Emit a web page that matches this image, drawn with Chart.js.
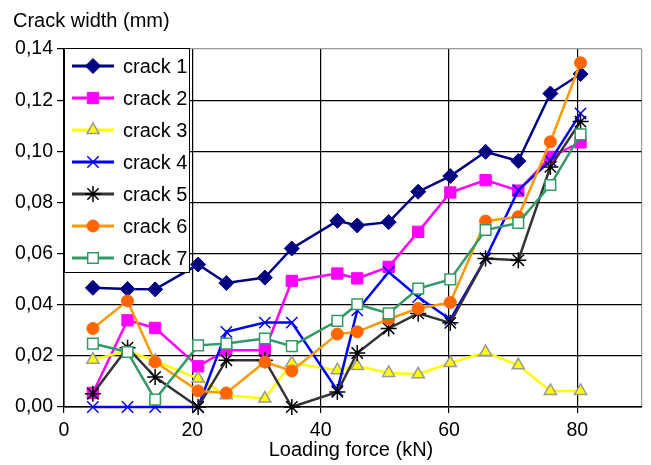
<!DOCTYPE html>
<html>
<head>
<meta charset="utf-8">
<script src="https://cdn.jsdelivr.net/npm/chart.js@4/dist/chart.umd.min.js"></script>
<style>
  html, body { margin: 0; padding: 0; background: #fff; }
  #wrap { width: 651px; height: 465px; position: relative; }
</style>
</head>
<body>
<div id="wrap"><canvas id="crackChart"></canvas></div>
<script>
// loading steps (kN)
const loads = [4.5, 9.9, 14.2, 20.9, 25.3, 31.3, 35.5, 42.6, 45.7, 50.6, 55.2, 60.2, 65.7, 70.8, 75.8, 80.5];

// crack widths (mm)
const crack1 = [0.0466, 0.0461, 0.0460, 0.0557, 0.0485, 0.0506, 0.0620, 0.0728, 0.0710, 0.0723, 0.0842, 0.0903, 0.0998, 0.0962, 0.1226, 0.1302];
const crack2 = [0.0055, 0.0339, 0.0309, 0.0159, 0.0222, 0.0222, 0.0493, 0.0522, 0.0503, 0.0548, 0.0685, 0.0839, 0.0887, 0.0846, 0.0978, 0.1035];
const crack3 = [0.0185, 0.0220, 0.0180, 0.0111, 0.0046, 0.0033, 0.0172, 0.0144, 0.0160, 0.0133, 0.0128, 0.0172, 0.0215, 0.0163, 0.0063, 0.0063];
const crack4 = [0, 0, 0, 0, 0.0294, 0.0330, 0.0330, 0.0065, 0.0378, 0.0528, 0.0430, 0.0342, 0.0581, 0.0848, 0.0963, 0.1148];
const crack5 = [0.0052, 0.0232, 0.0117, 0, 0.0183, 0.0183, 0, 0.0059, 0.0211, 0.0307, 0.0366, 0.0329, 0.0581, 0.0574, 0.0939, 0.1116];
const crack6 = [0.0307, 0.0415, 0.0176, 0.0063, 0.0055, 0.0176, 0.0141, 0.0285, 0.0294, 0.0344, 0.0385, 0.0409, 0.0727, 0.0744, 0.1037, 0.1346];
const crack7 = [0.0248, 0.0215, 0.0029, 0.0241, 0.0248, 0.0268, 0.0238, 0.0337, 0.0402, 0.0366, 0.0463, 0.0499, 0.0692, 0.0720, 0.0868, 0.1066];

const xTicks = [0, 20, 40, 60, 80];
const yTitle = "Crack width (mm)";
const xTitle = "Loading force (kN)";

const FONT = "'Liberation Sans', Arial, Helvetica, sans-serif";

// series look: line colour, marker style, marker fill / border
const series = [
    { label: "crack 1", data: crack1, line: "#000080", style: "rectRot",  r: 7.5, fill: "#000080", edge: "#000080", bw: 1 },
    { label: "crack 2", data: crack2, line: "#FF00FF", style: "rect",     r: 8,   fill: "#FF00FF", edge: "#FF00FF", bw: 1 },
    { label: "crack 3", data: crack3, line: "#FFFF00", style: "triangle", r: 7,   fill: "#FFFF00", edge: "#999999", bw: 1.5 },
    { label: "crack 4", data: crack4, line: "#0000FF", style: "crossRot", r: 8,   fill: "#0000FF", edge: "#0000FF", bw: 1.5 },
    { label: "crack 5", data: crack5, line: "#333333", style: "star",     r: 8,   fill: "#000000", edge: "#000000", bw: 1.5 },
    { label: "crack 6", data: crack6, line: "#FF9900", style: "circle",   r: 6,   fill: "#FF6600", edge: "#FF6600", bw: 1 },
    { label: "crack 7", data: crack7, line: "#339966", style: "rect",     r: 7.5, fill: "#FFFFFF", edge: "#339966", bw: 1.5 }
];

const datasets = series.map((s, i) => ({
    label: s.label,
    data: loads.map((x, k) => ({ x: x, y: s.data[k] })),
    borderColor: s.line,
    borderWidth: 2.5,
    pointStyle: s.style,
    pointRadius: s.r,
    pointBackgroundColor: s.fill,
    pointBorderColor: s.edge,
    pointBorderWidth: s.bw,
    tension: 0,
    clip: false,
    order: series.length - 1 - i   // last series drawn on top, like the original
}));

// titles + legend box drawn on the canvas
const extrasPlugin = {
    id: "extras",
    afterDatasetsDraw(chart) {
        const ctx = chart.ctx;
        ctx.save();
        // legend box
        const bx = 64, by = 48, bw = 125, bh = 224;
        ctx.fillStyle = "#fff";
        ctx.fillRect(bx, by, bw, bh);
        ctx.strokeStyle = "#000";
        ctx.lineWidth = 1;
        ctx.strokeRect(bx + 0.5, by + 0.5, bw, bh);
        series.forEach((s, i) => {
            const y = 66 + i * 32;
            ctx.strokeStyle = s.line;
            ctx.lineWidth = 3;
            ctx.beginPath();
            ctx.moveTo(72, y);
            ctx.lineTo(114, y);
            ctx.stroke();
            ctx.fillStyle = s.fill;
            ctx.strokeStyle = s.edge;
            ctx.lineWidth = s.bw;
            Chart.helpers.drawPoint(ctx, { pointStyle: s.style, radius: s.r, borderWidth: s.bw, rotation: 0 }, 93, y);
            ctx.fillStyle = "#000";
            ctx.font = "20px " + FONT;
            ctx.textBaseline = "middle";
            ctx.textAlign = "left";
            ctx.fillText(s.label, 123, y + 1);
        });
        ctx.restore();
    },
    afterDraw(chart) {
        const ctx = chart.ctx;
        ctx.save();
        ctx.fillStyle = "#000";
        ctx.font = "20px " + FONT;
        ctx.textBaseline = "alphabetic";
        ctx.textAlign = "left";
        ctx.fillText(yTitle, 13, 27);
        ctx.textAlign = "center";
        ctx.fillText(xTitle, 351, 456);
        ctx.restore();
    }
};

new Chart(document.getElementById("crackChart"), {
    type: "line",
    data: { datasets: datasets },
    options: {
        responsive: true,
        maintainAspectRatio: false,
        animation: false,
        layout: { padding: { top: 49, right: 3, left: 0, bottom: 0 } },
        plugins: {
            legend: { display: false },
            tooltip: { enabled: false }
        },
        scales: {
            x: {
                type: "linear",
                min: 0,
                max: 90,
                afterBuildTicks: (scale) => {
                    scale.ticks = xTicks.concat([90]).map(v => ({ value: v }));
                },
                afterFit: (scale) => { scale.height = 58; },
                ticks: {
                    color: "#000",
                    font: { family: FONT, size: 19.5 },
                    padding: 6,
                    maxRotation: 0,
                    callback: (v) => xTicks.includes(v) ? String(v) : ""
                },
                grid: {
                    color: (c) => (c.tick && c.tick.value === 90) ? "#999999" : "#000000",
                    tickColor: (c) => (c.tick && c.tick.value === 90) ? "rgba(0,0,0,0)" : "#000000",
                    lineWidth: 1.2,
                    tickLength: 6
                },
                border: { color: "#000", width: 1.5 }
            },
            y: {
                min: 0,
                max: 0.14,
                ticks: {
                    stepSize: 0.02,
                    color: "#000",
                    font: { family: FONT, size: 19.5 },
                    padding: 4,
                    callback: (v) => v.toFixed(2).replace(".", ",")
                },
                afterFit: (scale) => { scale.width = 64; },
                grid: {
                    color: (c) => (c.tick && c.tick.value > 0.139) ? "#999999" : "#000000",
                    tickColor: "#000",
                    lineWidth: 1.2,
                    tickLength: 7
                },
                border: { color: "#000", width: 1.5 }
            }
        }
    },
    plugins: [extrasPlugin]
});
</script>
</body>
</html>
